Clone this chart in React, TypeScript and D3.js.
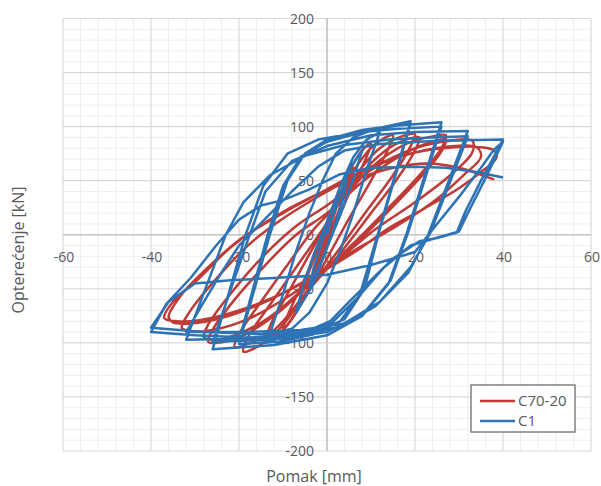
import React from 'react';
import * as d3 from 'd3';

type Pt = [number, number];

const xTicks: number[] = [-60, -40, -20, 0, 20, 40, 60];
const yTicks: number[] = [-200, -150, -100, -50, 0, 50, 100, 150, 200];
const seriesNames: string[] = ['C70-20', 'C1'];
const xTitle = 'Pomak [mm]';
const yTitle = 'Opterećenje [kN]';

// C70-20 (red) load-displacement path
const redPath: Pt[] = [
  [0, 0],
  [1.5, 22], [3, 40], [2.5, 30], [0.5, 5], [-1.5, -20], [-3, -38], [-2.5, -28], [-0.5, -5],
  [2, 28], [4.5, 52], [6, 62], [5, 48], [2, 15], [-1.5, -22], [-4.5, -52], [-6, -60], [-5, -45], [-2, -12],
  [1.5, 22], [5, 58], [8, 78], [10, 85], [9, 72], [5, 38], [1, 0], [-3, -38], [-7, -72], [-10, -88], [-9, -75], [-5, -40], [-1, -2],
  [3, 35], [7, 65], [11, 84], [15, 92], [14, 80], [10, 50], [5, 15], [0, -22], [-5, -58], [-10, -88], [-14, -100], [-13, -85], [-9, -55], [-4, -18], [1, 18],
  [6, 52], [12, 80], [17, 91], [20, 93], [19, 82], [15, 55], [9, 22], [3, -12], [-4, -50], [-11, -88], [-16, -104], [-19, -108], [-18, -95], [-13, -65], [-7, -30], [-1, 5],
  [6, 48], [13, 77], [18, 88], [21, 90], [20, 78], [16, 52], [10, 20], [3, -17], [-5, -55], [-12, -88], [-18, -101], [-21, -104], [-20, -92], [-15, -62], [-9, -28], [-3, 5],
  [3, 30], [10, 62], [18, 84], [24, 91], [27, 92], [26, 80], [21, 55], [14, 25], [6, -8], [-3, -42], [-12, -75], [-20, -95], [-25, -100], [-27, -99], [-26, -88], [-21, -60], [-14, -28], [-7, 0],
  [0, 20], [9, 52], [18, 76], [24, 86], [27, 88], [26, 77], [21, 52], [14, 22], [6, -10], [-4, -45], [-13, -76], [-21, -93], [-26, -97], [-28, -95], [-27, -83], [-22, -55], [-15, -22], [-7, 8],
  [1, 30], [10, 60], [20, 80], [28, 87], [33, 87], [33, 76], [28, 55], [20, 30], [11, 5], [2, -25], [-8, -55], [-18, -78], [-26, -88], [-31, -89], [-33, -86], [-31, -70], [-25, -40], [-18, -10], [-10, 15],
  [0, 40], [10, 62], [20, 76], [29, 82], [34, 81], [35, 72], [31, 55], [24, 30], [15, 6], [6, -15], [-3, -38], [-14, -62], [-24, -77], [-31, -82], [-35, -81], [-36, -76], [-33, -55], [-27, -30], [-20, -5], [-10, 20],
  [0, 42], [10, 63], [20, 76], [29, 81], [35, 81], [38, 78], [38.5, 71], [35, 58], [30, 43], [22, 24], [14, 6], [7, -14], [-1, -34], [-10, -54], [-20, -70], [-29, -79], [-34, -80], [-37, -77], [-35, -62], [-29, -40], [-22, -12], [-13, 14], [-3, 36],
  [7, 52], [15, 62], [23, 66], [30, 62], [38, 51],
];

// C1 (blue) load-displacement path
const bluePath: Pt[] = [
  [0, 0],
  [2, 28], [4.5, 50], [3.5, 32], [1.5, 5], [-1, -22], [-4, -48], [-3, -30], [-1, -5],
  [2, 25], [5, 60], [8, 78], [6, 52], [3, 18], [0, -12], [-3, -45], [-7, -72], [-5.5, -48], [-3, -18], [0, 12],
  [3, 45], [6, 72], [9, 88], [12, 95], [9, 60], [6, 20], [3, -15], [0, -45], [-4, -72], [-8, -87], [-13, -92], [-10, -55], [-7, -15], [-4, 20],
  [-1, 50], [2, 75], [6, 90], [11, 98], [19, 105],
  [11.5, 0], [7.5, -55], [3, -80], [-3, -92], [-11, -99], [-20, -101],
  [-13, 0], [-9, 50], [-5, 75], [0, 88], [8, 97], [19, 103],
  [12, 5], [8.5, -50], [4, -78], [-3, -91], [-11, -96], [-20, -98],
  [-13.5, 0], [-10, 45], [-6, 72], [0, 86], [9, 96], [16, 101], [26, 104],
  [18, 0], [14, -45], [8, -75], [0, -93], [-12, -102], [-26, -106],
  [-18.5, 0], [-14.5, 45], [-9, 75], [-2, 88], [8, 95], [16, 98], [26, 100],
  [18.5, 3], [14.5, -42], [8.5, -72], [0, -90], [-12, -97], [-26, -99],
  [-18, -5], [-14, 40], [-8, 68], [0, 82], [10, 92], [20, 95], [32, 96],
  [23, 0], [18.5, -35], [11, -66], [3, -85], [-6, -92], [-18, -96], [-32, -97],
  [-23, 0], [-19, 30], [-13, 55], [-5, 73], [4, 83], [14, 88], [24, 90], [32, 91],
  [23.5, 2], [19, -30], [12, -62], [4, -82], [-6, -88], [-18, -90], [-32, -90],
  [-28, -62], [-24, -35], [-20, -10], [-14, 15], [-8, 40], [-2, 63], [4, 78], [12, 84], [25, 87], [40, 88],
  [35, 50], [31.5, 22], [29.5, 2], [25, -3], [21, -6], [15, -22], [10.5, -40], [5, -62], [0.7, -80], [-5, -90], [-15, -92], [-28, -90], [-40, -86],
  [-36, -62], [-30, -45], [-22, -42], [-12, -40], [0, -37], [10, -28], [20, -16], [25, 10], [30, 35], [35, 62], [38, 79], [40, 86],
  [36, 52], [32, 20], [30, 3], [24, -4], [19, -10], [13, -30], [7, -58], [1, -82], [-6, -93], [-18, -95], [-30, -93], [-40, -90],
  [-36.5, -64], [-31, -40], [-25, -9], [-20, 14], [-15, 27], [-10, 32], [-4, 42], [3, 56], [10, 62], [20, 63], [27, 62], [34, 58], [40, 53],
];

const seriesData: Pt[][] = [redPath, bluePath];
const seriesColors: string[] = ['#BE3B38', '#2E74B5'];

export default function App() {
  const W = 601;
  const H = 486;
  const x = d3.scaleLinear().domain([-60, 60]).range([63, 591]);
  const y = d3.scaleLinear().domain([-200, 200]).range([451, 18.5]);

  const minorX = d3.range(-60, 60.001, 4).filter((v) => Math.abs(v % 20) > 0.001);
  const minorY = d3.range(-200, 200.001, 10).filter((v) => Math.abs(v % 50) > 0.001);

  const smooth = d3
    .line<Pt>()
    .x((d) => x(d[0]))
    .y((d) => y(d[1]))
    .curve(d3.curveCatmullRom.alpha(0.5));
  const straight = d3
    .line<Pt>()
    .x((d) => x(d[0]))
    .y((d) => y(d[1]))
    .curve(d3.curveLinear);
  const gens = [smooth, straight];

  const font = "'Open Sans', 'Noto Sans', sans-serif";
  const labelColor = '#595959';

  return (
    <svg
      width={W}
      height={H}
      style={{ position: 'absolute', left: 0, top: 0, background: '#fff' }}
      fontFamily={font}
    >
      <rect x={0} y={0} width={W} height={H} fill="#fff" />
      <g stroke="#eeeeee" strokeWidth={1}>
        {minorX.map((v) => (
          <line key={'mx' + v} x1={x(v)} x2={x(v)} y1={y(200)} y2={y(-200)} />
        ))}
        {minorY.map((v) => (
          <line key={'my' + v} x1={x(-60)} x2={x(60)} y1={y(v)} y2={y(v)} />
        ))}
      </g>
      <g stroke="#d9d9d9" strokeWidth={1.2}>
        {xTicks.map((v) => (
          <line key={'gx' + v} x1={x(v)} x2={x(v)} y1={y(200)} y2={y(-200)} />
        ))}
        {yTicks.map((v) => (
          <line key={'gy' + v} x1={x(-60)} x2={x(60)} y1={y(v)} y2={y(v)} />
        ))}
      </g>
      <g stroke="#c4c4c4" strokeWidth={1.5}>
        <line x1={x(0)} x2={x(0)} y1={y(200)} y2={y(-200)} />
        <line x1={x(-60)} x2={x(60)} y1={y(0)} y2={y(0)} />
      </g>
      <g fill={labelColor} fontSize={14}>
        {xTicks.map((v) => (
          <text key={'tx' + v} x={x(v) + 1} y={y(0) + 27} textAnchor="middle">
            {v}
          </text>
        ))}
        {yTicks.map((v) => (
          <text key={'ty' + v} x={x(0) - 13} y={y(v) + 5} textAnchor="end">
            {v}
          </text>
        ))}
      </g>
      <text x={314} y={482} textAnchor="middle" fontSize={16} fill={labelColor}>
        {xTitle}
      </text>
      <text transform={`translate(24,250) rotate(-90)`} textAnchor="middle" fontSize={16} fill={labelColor}>
        {yTitle}
      </text>
      {seriesData.map((d, i) => (
        <path
          key={'s' + i}
          d={gens[i](d) || ''}
          fill="none"
          stroke={seriesColors[i]}
          strokeWidth={2.5}
          strokeLinejoin="round"
        />
      ))}
      <g>
        <rect x={471} y={385} width={104} height={47} fill="#fff" stroke="#808080" strokeWidth={1.5} />
        {seriesNames.map((n, i) => (
          <g key={'l' + i}>
            <line x1={480} x2={515} y1={401 + i * 20} y2={401 + i * 20} stroke={seriesColors[i]} strokeWidth={2.5} />
            <text x={518} y={406 + i * 20} fontSize={15} fill={labelColor}>
              {n}
            </text>
          </g>
        ))}
      </g>
    </svg>
  );
}
